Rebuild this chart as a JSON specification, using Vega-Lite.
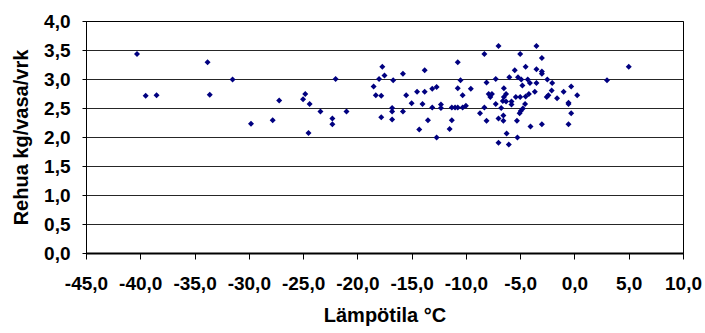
{
  "$schema": "https://vega.github.io/schema/vega-lite/v6.json",
  "width": 597,
  "height": 232,
  "autosize": "none",
  "padding": {"left": 86, "top": 21, "right": 22, "bottom": 80},
  "background": "white",
  "config": {
    "font": "Liberation Sans",
    "view": {"stroke": "#000", "strokeWidth": 1},
    "axis": {"labelFont": "Liberation Sans", "titleFont": "Liberation Sans", "labelFontWeight": "bold", "titleFontWeight": "bold", "labelColor": "#000", "titleColor": "#000"}
  },
  "data": {
    "values": [
      {"t": -40.3, "r": 3.43}, {"t": -39.5, "r": 2.71}, {"t": -38.5, "r": 2.72},
      {"t": -33.8, "r": 3.29}, {"t": -33.6, "r": 2.73}, {"t": -31.5, "r": 2.99},
      {"t": -29.8, "r": 2.23}, {"t": -27.8, "r": 2.29}, {"t": -27.2, "r": 2.63},
      {"t": -25.0, "r": 2.65}, {"t": -24.8, "r": 2.74}, {"t": -24.4, "r": 2.57},
      {"t": -24.5, "r": 2.07}, {"t": -23.4, "r": 2.44}, {"t": -22.3, "r": 2.32},
      {"t": -22.3, "r": 2.22}, {"t": -22.0, "r": 3.0}, {"t": -21.0, "r": 2.44},
      {"t": -18.5, "r": 2.87}, {"t": -18.3, "r": 2.72}, {"t": -17.8, "r": 2.71},
      {"t": -18.0, "r": 3.0}, {"t": -17.7, "r": 3.21}, {"t": -17.5, "r": 3.06},
      {"t": -17.8, "r": 2.34}, {"t": -16.7, "r": 2.98}, {"t": -16.8, "r": 2.5},
      {"t": -16.8, "r": 2.44}, {"t": -16.8, "r": 2.3}, {"t": -15.8, "r": 3.09},
      {"t": -15.8, "r": 2.44}, {"t": -15.5, "r": 2.72}, {"t": -15.0, "r": 2.58},
      {"t": -14.5, "r": 2.78}, {"t": -14.3, "r": 2.13}, {"t": -14.0, "r": 2.57},
      {"t": -13.8, "r": 3.15}, {"t": -13.8, "r": 2.78}, {"t": -13.5, "r": 2.29},
      {"t": -13.1, "r": 2.51}, {"t": -13.1, "r": 2.83}, {"t": -12.7, "r": 2.86},
      {"t": -12.7, "r": 1.99}, {"t": -12.3, "r": 2.56}, {"t": -12.3, "r": 2.5},
      {"t": -11.5, "r": 2.14}, {"t": -11.3, "r": 2.29}, {"t": -11.3, "r": 2.51},
      {"t": -11.0, "r": 2.51}, {"t": -10.75, "r": 2.51}, {"t": -10.75, "r": 3.29},
      {"t": -10.75, "r": 2.84}, {"t": -10.5, "r": 2.98}, {"t": -10.3, "r": 2.72},
      {"t": -10.3, "r": 2.51}, {"t": -10.0, "r": 2.54}, {"t": -9.55, "r": 2.83},
      {"t": -8.7, "r": 2.41}, {"t": -8.3, "r": 3.43}, {"t": -8.3, "r": 2.51},
      {"t": -8.1, "r": 2.94}, {"t": -8.1, "r": 2.28}, {"t": -7.9, "r": 2.74},
      {"t": -7.6, "r": 2.74}, {"t": -7.75, "r": 2.69}, {"t": -7.0, "r": 3.57},
      {"t": -3.5, "r": 3.57}, {"t": -5.0, "r": 3.43}, {"t": -3.0, "r": 3.36},
      {"t": -5.5, "r": 3.15}, {"t": -4.5, "r": 3.21}, {"t": -3.5, "r": 3.17},
      {"t": -3.0, "r": 3.13}, {"t": -3.0, "r": 3.09}, {"t": -6.0, "r": 3.03},
      {"t": -5.2, "r": 3.03}, {"t": -4.9, "r": 2.99}, {"t": -4.3, "r": 2.99},
      {"t": -2.5, "r": 2.99}, {"t": -7.25, "r": 3.0}, {"t": -4.1, "r": 2.93},
      {"t": -3.5, "r": 2.93}, {"t": -2.05, "r": 2.93}, {"t": -4.8, "r": 2.89},
      {"t": -6.5, "r": 2.84}, {"t": -3.65, "r": 2.78}, {"t": -2.1, "r": 2.8},
      {"t": -4.2, "r": 2.74}, {"t": -6.3, "r": 2.74}, {"t": -6.5, "r": 2.69},
      {"t": -5.4, "r": 2.69}, {"t": -5.0, "r": 2.69}, {"t": -4.5, "r": 2.7},
      {"t": -2.55, "r": 2.69}, {"t": -2.4, "r": 2.72}, {"t": -1.6, "r": 2.67},
      {"t": -7.25, "r": 2.57}, {"t": -6.3, "r": 2.61}, {"t": -5.8, "r": 2.61},
      {"t": -5.8, "r": 2.56}, {"t": -4.55, "r": 2.57}, {"t": -6.6, "r": 2.62},
      {"t": -6.75, "r": 2.5}, {"t": -4.95, "r": 2.45}, {"t": -4.75, "r": 2.49},
      {"t": -7.0, "r": 2.32}, {"t": -6.55, "r": 2.37}, {"t": -6.55, "r": 2.28},
      {"t": -5.3, "r": 2.28}, {"t": -5.05, "r": 2.41}, {"t": -4.05, "r": 2.18},
      {"t": -3.0, "r": 2.22}, {"t": -6.25, "r": 2.06}, {"t": -5.25, "r": 1.99},
      {"t": -7.0, "r": 1.9}, {"t": -6.05, "r": 1.87}, {"t": -0.3, "r": 2.87},
      {"t": -1.0, "r": 2.78}, {"t": 0.25, "r": 2.72}, {"t": -0.55, "r": 2.59},
      {"t": -0.55, "r": 2.57}, {"t": -0.3, "r": 2.41}, {"t": -0.55, "r": 2.22},
      {"t": 3.0, "r": 2.98}, {"t": 5.0, "r": 3.21}
    ]
  },
  "mark": {"type": "point", "shape": "diamond", "filled": true, "size": 36, "color": "#000080", "opacity": 1},
  "encoding": {
    "x": {
      "field": "t", "type": "quantitative",
      "scale": {"domain": [-45, 10], "nice": false, "zero": false},
      "axis": {
        "values": [-45, -40, -35, -30, -25, -20, -15, -10, -5, 0, 5, 10],
        "labelExpr": "replace(replace(format(datum.value, '.1f'), '.', ','), '−', '-')",
        "grid": false, "domainColor": "#000", "domainWidth": 2,
        "tickColor": "#000", "tickSize": 6, "tickWidth": 1,
        "labelFontSize": 19, "labelPadding": 15, "labelFlush": false,
        "title": "Lämpötila °C", "titleFontSize": 20, "titlePadding": 12
      }
    },
    "y": {
      "field": "r", "type": "quantitative",
      "scale": {"domain": [0, 4], "nice": false},
      "axis": {
        "values": [0, 0.5, 1, 1.5, 2, 2.5, 3, 3.5, 4],
        "labelExpr": "replace(format(datum.value, '.1f'), '.', ',')",
        "grid": true, "gridColor": "#000", "gridWidth": 1, "gridOpacity": 0.85,
        "domainColor": "#000", "domainWidth": 1,
        "tickColor": "#000", "tickSize": 4, "tickWidth": 1,
        "labelFontSize": 19, "labelPadding": 12, "labelFlush": false,
        "title": "Rehua kg/vasa/vrk", "titleFontSize": 20, "titlePadding": 12
      }
    }
  }
}
